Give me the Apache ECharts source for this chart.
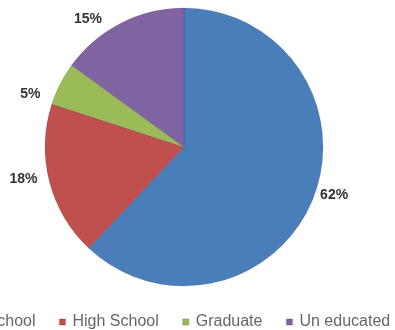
<!DOCTYPE html>
<html><head><meta charset="utf-8">
<script src="https://cdn.jsdelivr.net/npm/echarts@6/dist/echarts.min.js"></script>
<style>html,body{margin:0;padding:0;background:#fff}#c{width:395px;height:330px}</style>
</head><body><div id="c"></div>
<script>
const categories = ["Primary School", "High School", "Graduate", "Un educated"];
const values = [62, 18, 5, 15];
const colors = ["#4A7EBB", "#C0504D", "#9BBB59", "#8064A2"];
const labelShift = [[0, -4], [-5, -3], [-13, 11], [-13, -2]];

const chart = echarts.init(document.getElementById('c'), null, {renderer: 'canvas'});
chart.setOption({
  animation: false,
  color: colors,
  legend: {
    orient: 'horizontal',
    left: -92,
    top: 309,
    width: 700,
    itemWidth: 6,
    itemHeight: 6,
    itemGap: 23,
    icon: 'rect',
    textStyle: {fontFamily: 'Liberation Sans, Arial', fontSize: 16, color: '#666', padding: [0,0,0,2]},
    data: categories
  },
  series: [{
    type: 'pie',
    center: [184, 147],
    radius: [0, 139],
    startAngle: 90,
    clockwise: true,
    data: categories.map((n, i) => ({name: n, value: values[i]})),
    itemStyle: {borderColor: 'rgba(0,0,0,0.12)', borderWidth: 1},
    label: {
      show: true,
      position: 'outside',
      formatter: '{d}%',
      fontFamily: 'Liberation Sans, Arial',
      fontSize: 14,
      fontWeight: 'bold',
      color: '#333'
    },
    labelLine: {show: false, length: 2, length2: 0},
    labelLayout: function (p) {
      const s = labelShift[p.dataIndex];
      return {dx: s[0], dy: s[1]};
    },
    emphasis: {disabled: true}
  }]
});
</script></body></html>
